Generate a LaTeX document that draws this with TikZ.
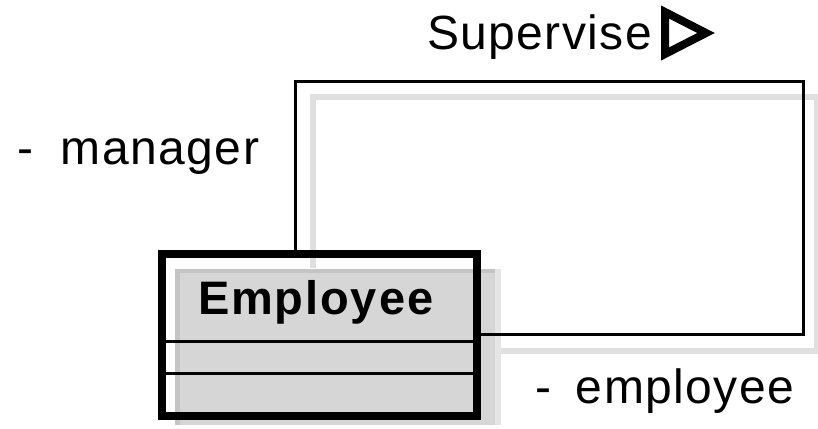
\documentclass[tikz,border=0pt]{standalone}
\usepackage{fontspec}
\setmainfont{Liberation Sans}
\usetikzlibrary{calc}

\begin{document}
\begin{tikzpicture}[x=1pt, y=-1pt,
    every node/.style={inner sep=0pt, outer sep=0pt, font=\fontsize{48}{58}\selectfont\addfontfeatures{LetterSpace=3}},
    classbox/.style={draw=black, line width=8pt, rectangle, minimum width=315pt, minimum height=162pt},
    assoc/.style={draw=black, line width=3pt, line join=miter},
    shade/.style={draw=black!12, line width=6pt},
    divider/.style={draw=black, line width=3pt}]

    \useasboundingbox (0,0) rectangle (818,428);

    % Shadows
    \draw[shade] (313,268) -- (313,97) -- (817,97) -- (817,351) -- (495,351);
    \fill[black!16] (175,269) rectangle (495,425);
    \fill[black!23] (175,269) rectangle (495,273);
    \fill[black!23] (175,269) rectangle (180,425);
    \fill[black!10] (495,269) rectangle (501,425);

    % Nodes
    \node[classbox] (employee) at (319.5,335) {};
    \node[anchor=base west, font=\fontsize{47}{56}\selectfont\bfseries\addfontfeatures{LetterSpace=4}] (empname) at (198,314) {Employee};
    \coordinate (c1) at (295,81);
    \coordinate (c2) at (803,334);

    % Compartments
    \draw[divider] (employee.west |- 0,341) -- (employee.east |- 0,341);
    \draw[divider] (employee.west |- 0,373.5) -- (employee.east |- 0,373.5);

    % Self association
    \draw[assoc] (employee.north -| c1) -- (c1) -| (c2) -- (employee.east |- c2);

    % Labels
    \node[anchor=base west] (supervise) at (427,49) {Supervise};
    \draw[line width=8pt, line join=miter, miter limit=10] (665,12) -- (706,33) -- (665,54) -- cycle;
    \node[anchor=base west] (manager) at (17,164) {-\hspace{28pt}manager};
    \node[anchor=base west] (empl) at (535,403) {-\hspace{25pt}employee};

\end{tikzpicture}
\end{document}
